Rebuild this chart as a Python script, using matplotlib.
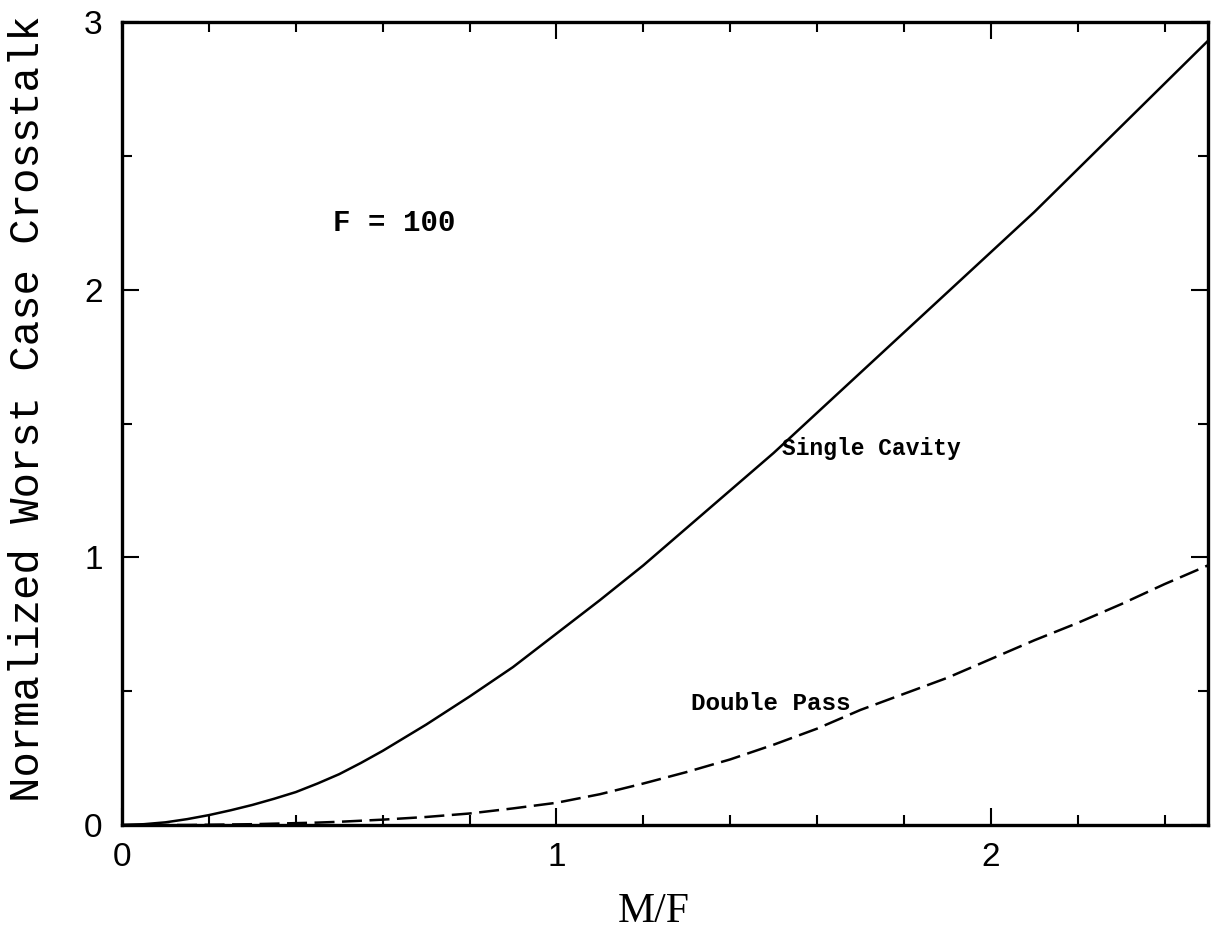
import matplotlib
matplotlib.use("Agg")
import matplotlib.pyplot as plt
from matplotlib.ticker import MultipleLocator

# Normalized worst-case crosstalk versus M/F (finesse F = 100)
mf = [0.0, 0.05, 0.1, 0.15, 0.2, 0.25, 0.3, 0.35, 0.4, 0.45, 0.5, 0.55, 0.6,
      0.7, 0.8, 0.9, 1.0, 1.1, 1.2, 1.3, 1.4, 1.5, 1.6, 1.7, 1.8, 1.9, 2.0,
      2.1, 2.2, 2.3, 2.4, 2.5]
single_cavity = [0.0, 0.003, 0.010, 0.022, 0.037, 0.055, 0.075, 0.098, 0.123,
                 0.155, 0.19, 0.232, 0.277, 0.375, 0.48, 0.59, 0.715, 0.84,
                 0.97, 1.11, 1.25, 1.39, 1.54, 1.69, 1.84, 1.99, 2.14, 2.29,
                 2.45, 2.61, 2.77, 2.93]
double_pass = [0.0, 0.0, 0.0, 0.0, 0.001, 0.002, 0.003, 0.005, 0.007, 0.009,
               0.012, 0.016, 0.02, 0.03, 0.043, 0.062, 0.083, 0.115, 0.155,
               0.198, 0.245, 0.30, 0.36, 0.43, 0.49, 0.55, 0.62, 0.69, 0.755,
               0.825, 0.90, 0.97]

x_ticks = [0, 1, 2]
y_ticks = [0, 1, 2, 3]

fig = plt.figure(figsize=(12.12, 9.42), dpi=100)
ax = fig.add_axes([0.1007, 0.1242, 0.896, 0.8524])

ax.plot(mf, single_cavity, color="black", lw=1.8, solid_joinstyle="round")
ax.plot(mf, double_pass, color="black", lw=1.8, dashes=(8, 3))

ax.set_xlim(0, 2.5)
ax.set_ylim(0, 3)
ax.set_xticks(x_ticks)
ax.set_yticks(y_ticks)
ax.xaxis.set_minor_locator(MultipleLocator(0.2))
ax.yaxis.set_minor_locator(MultipleLocator(0.5))
ax.tick_params(which="both", direction="in", top=True, right=True,
               width=1.5, color="black")
ax.tick_params(which="major", length=12, labelsize=24)
ax.tick_params(axis="x", which="major", pad=12)
ax.tick_params(axis="y", which="major", pad=14)
ax.tick_params(which="minor", length=7)
for lab in ax.get_xticklabels() + ax.get_yticklabels():
    lab.set_fontfamily("Liberation Sans")

for sp in ax.spines.values():
    sp.set_linewidth(2.4)

ax.set_xlabel("M/F", fontsize=30, fontfamily="Liberation Serif")
ax.xaxis.set_label_coords(0.49, -0.084)
ax.set_ylabel("Normalized Worst Case Crosstalk", fontsize=30.5,
              fontfamily="Liberation Mono")
ax.yaxis.set_label_coords(-0.068, 0.519)

ax.text(0.486, 2.25, "F = 100", fontsize=21, fontfamily="Liberation Mono",
        fontweight="bold", va="center", ha="left")
ax.text(1.52, 1.405, "Single Cavity", fontsize=16.5, fontfamily="Liberation Mono",
        fontweight="bold", va="center", ha="left")
ax.text(1.31, 0.455, "Double Pass", fontsize=17.5, fontfamily="Liberation Mono",
        fontweight="bold", va="center", ha="left")

fig.savefig("out.png", dpi=100, facecolor="white")
